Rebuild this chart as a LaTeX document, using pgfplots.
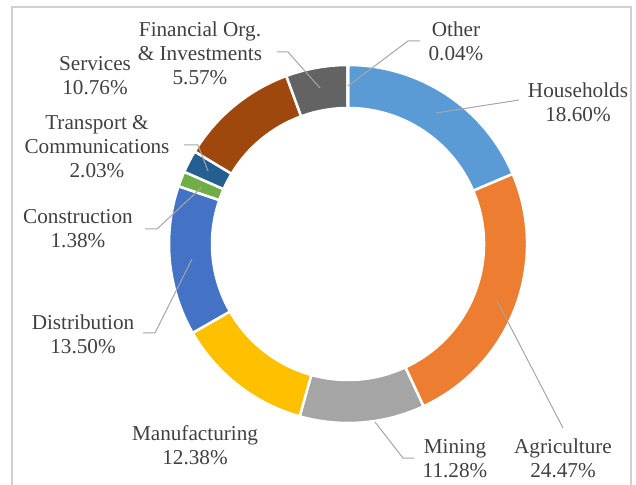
\documentclass[border=0pt]{standalone}
\usepackage{pgfplots}
\pgfplotsset{compat=1.18}
\usepackage{pgfplotstable}
\usepackage{fontspec}
\setmainfont{Liberation Serif}
\definecolor{cHH}{HTML}{5B9BD5}
\definecolor{cAG}{HTML}{ED7D31}
\definecolor{cMI}{HTML}{A5A5A5}
\definecolor{cMA}{HTML}{FFC000}
\definecolor{cDI}{HTML}{4472C4}
\definecolor{cCO}{HTML}{70AD47}
\definecolor{cTR}{HTML}{255E91}
\definecolor{cSE}{HTML}{9E480E}
\definecolor{cFI}{HTML}{636363}
\definecolor{cOT}{HTML}{997300}
\definecolor{txt}{HTML}{404040}
\definecolor{lead}{HTML}{A6A6A6}
\definecolor{cFrame}{HTML}{D0D0D0}
\tikzset{lab/.style={align=center, text=txt, font=\fontsize{10.6}{12}\selectfont, inner sep=0pt},
  ld/.style={draw=lead, line width=0.5pt}}

\pgfplotstableread{
value color
18.60 cHH
24.47 cAG
11.28 cMI
12.38 cMA
13.50 cDI
1.38 cCO
2.03 cTR
10.76 cSE
5.57 cFI
0.04 cOT
}\donut

\begin{document}
\begin{tikzpicture}
\begin{axis}[x=0.5pt, y=0.5pt, xmin=0, xmax=636, ymin=0, ymax=485, y dir=reverse,
  hide axis, clip=false]
\draw[draw=cFrame, line width=0.6pt] (axis cs:12,486) -- (axis cs:12,7) -- (axis cs:631,7) -- (axis cs:631,486);
\gdef\ms{90}
\pgfplotsforeachungrouped \i in {0,...,9}{%
 \pgfplotstablegetelem{\i}{value}\of\donut \let\myv\pgfplotsretval
 \pgfplotstablegetelem{\i}{color}\of\donut \let\myc\pgfplotsretval
 \pgfmathsetmacro\me{\ms-3.6*\myv}%
 \edef\cmd{\noexpand\fill[fill=\myc, draw=white, line width=1.25pt, shift={(axis cs:348,244)}] (\ms:89.5pt) arc[start angle=\ms, end angle=\me, radius=89.5pt] -- (\me:68pt) arc[start angle=\me, end angle=\ms, radius=68pt] -- cycle;}%
 \cmd
 \global\let\ms\me
}
% leader lines
\draw[ld] (axis cs:277,52) -- (axis cs:288,52) -- (axis cs:320,88);
\draw[ld] (axis cs:420,41) -- (axis cs:408,41) -- (axis cs:348,86);
\draw[ld] (axis cs:519,100) -- (axis cs:436,113);
\draw[ld] (axis cs:563,428) -- (axis cs:497,301);
\draw[ld] (axis cs:414,458) -- (axis cs:403,458) -- (axis cs:375,422);
\draw[ld] (axis cs:143,333) -- (axis cs:155,333) -- (axis cs:192,259);
\draw[ld] (axis cs:145,229) -- (axis cs:157,229) -- (axis cs:202,187);
\draw[ld] (axis cs:184,145) -- (axis cs:198,145) -- (axis cs:208,171);
% labels
\node[lab] at (axis cs:200,53) {Financial Org.\\\& Investments\\5.57\%};
\node[lab] at (axis cs:95,76) {Services\\10.76\%};
\node[lab] at (axis cs:97,147) {Transport \&\\Communications\\2.03\%};
\node[lab] at (axis cs:78,229) {Construction\\1.38\%};
\node[lab] at (axis cs:83,334.5) {Distribution\\13.50\%};
\node[lab] at (axis cs:195,445) {Manufacturing\\12.38\%};
\node[lab] at (axis cs:455,458.5) {Mining\\11.28\%};
\node[lab] at (axis cs:563,458.5) {Agriculture\\24.47\%};
\node[lab] at (axis cs:456,41.5) {Other\\0.04\%};
\node[lab] at (axis cs:578,102.5) {Households\\18.60\%};
\end{axis}
\pgfresetboundingbox
\useasboundingbox (current axis.south west) rectangle (current axis.north east);
\end{tikzpicture}
\end{document}
